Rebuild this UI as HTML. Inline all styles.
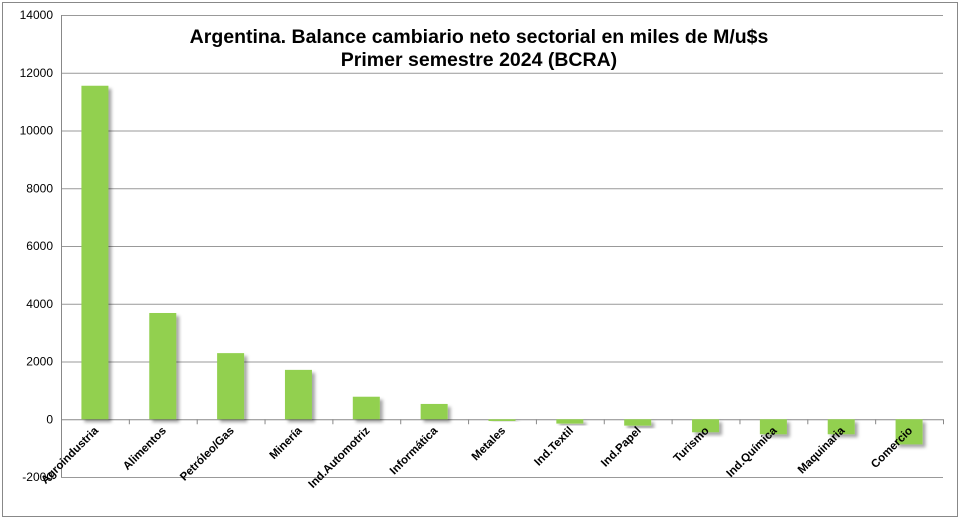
<!DOCTYPE html>
<html><head><meta charset="utf-8"><style>
html,body{margin:0;padding:0;background:#fff;width:965px;height:528px;overflow:hidden}
svg{display:block;font-family:"Liberation Sans",sans-serif}
</style></head><body>
<svg id="chart" width="965" height="528" viewBox="0 0 965 528">
<defs><filter id="sh" x="-20%" y="-20%" width="160%" height="160%"><feDropShadow dx="3" dy="3" stdDeviation="1.5" flood-color="#000" flood-opacity="0.35"/></filter></defs>
<rect x="2.5" y="2.5" width="955" height="514" fill="#fff" stroke="#888" stroke-width="1"/>
<g id="grid"></g><g id="bars"></g><g id="axes"></g>
<text x="479" y="43" text-anchor="middle" font-size="19.5" font-weight="bold" fill="#000">Argentina. Balance cambiario neto sectorial en miles de M/u$s</text>
<text x="479" y="66" text-anchor="middle" font-size="19.5" font-weight="bold" fill="#000">Primer semestre 2024 (BCRA)</text>
</svg>
<script>
const categories=["Agroindustria","Alimentos","Petróleo/Gas","Minería","Ind.Automotriz","Informática","Metales","Ind.Textil","Ind.Papel","Turismo","Ind.Química","Maquinaria","Comercio"];
const values=[11550,3680,2290,1710,780,530,-60,-150,-220,-450,-520,-520,-870];
const yTicks=[-2000,0,2000,4000,6000,8000,10000,12000,14000];
const NS="http://www.w3.org/2000/svg";
const L=61,R=943,T=15,B=477,yMin=-2000,yMax=14000;
const y=v=>B-(v-yMin)/(yMax-yMin)*(B-T);
const cw=(R-L)/categories.length;
const x=i=>L+cw*i;
function mk(tag,attrs,parent){const e=document.createElementNS(NS,tag);for(const k in attrs)e.setAttribute(k,attrs[k]);parent.appendChild(e);return e;}
const grid=document.getElementById('grid'),bars=document.getElementById('bars'),axes=document.getElementById('axes');
yTicks.forEach(t=>{
  const g=mk('line',{x1:L,x2:R,y1:y(t)+0.5,y2:y(t)+0.5,stroke:t===0?'#888':'#999','stroke-width':1},grid);
  
  
  const tx=mk('text',{x:L-8,y:y(t)+4,'text-anchor':'end','font-size':12,fill:'#000'},axes);
  tx.textContent=t;
  
  
});
const ax=mk('line',{x1:L+0.5,x2:L+0.5,y1:T,y2:B,stroke:'#888'},axes);


for(let i=0;i<=categories.length;i++){
  const tk=mk('line',{x1:x(i)+0.5,x2:x(i)+0.5,y1:y(0),y2:y(0)+5,stroke:'#888'},axes);
  
  
}
categories.forEach((c,i)=>{
  const v=values[i],bw=27,bx=x(i)+cw/2-bw/2;
  const top=Math.min(y(v),y(0)),h=Math.abs(y(v)-y(0));
  const r=mk('rect',{x:bx,y:top,width:bw,height:Math.max(h,1.5),fill:'#92d050',filter:'url(#sh)'},bars);
  
  
  const cx=x(i)+cw/2+4,cy=y(0)+12;
  const t=mk('text',{x:cx,y:cy,'text-anchor':'end','font-size':11.5,'font-weight':'bold',fill:'#000',transform:`rotate(-45 ${cx} ${cy})`},axes);
  t.textContent=c;
  
  
});
</script>
</body></html>
